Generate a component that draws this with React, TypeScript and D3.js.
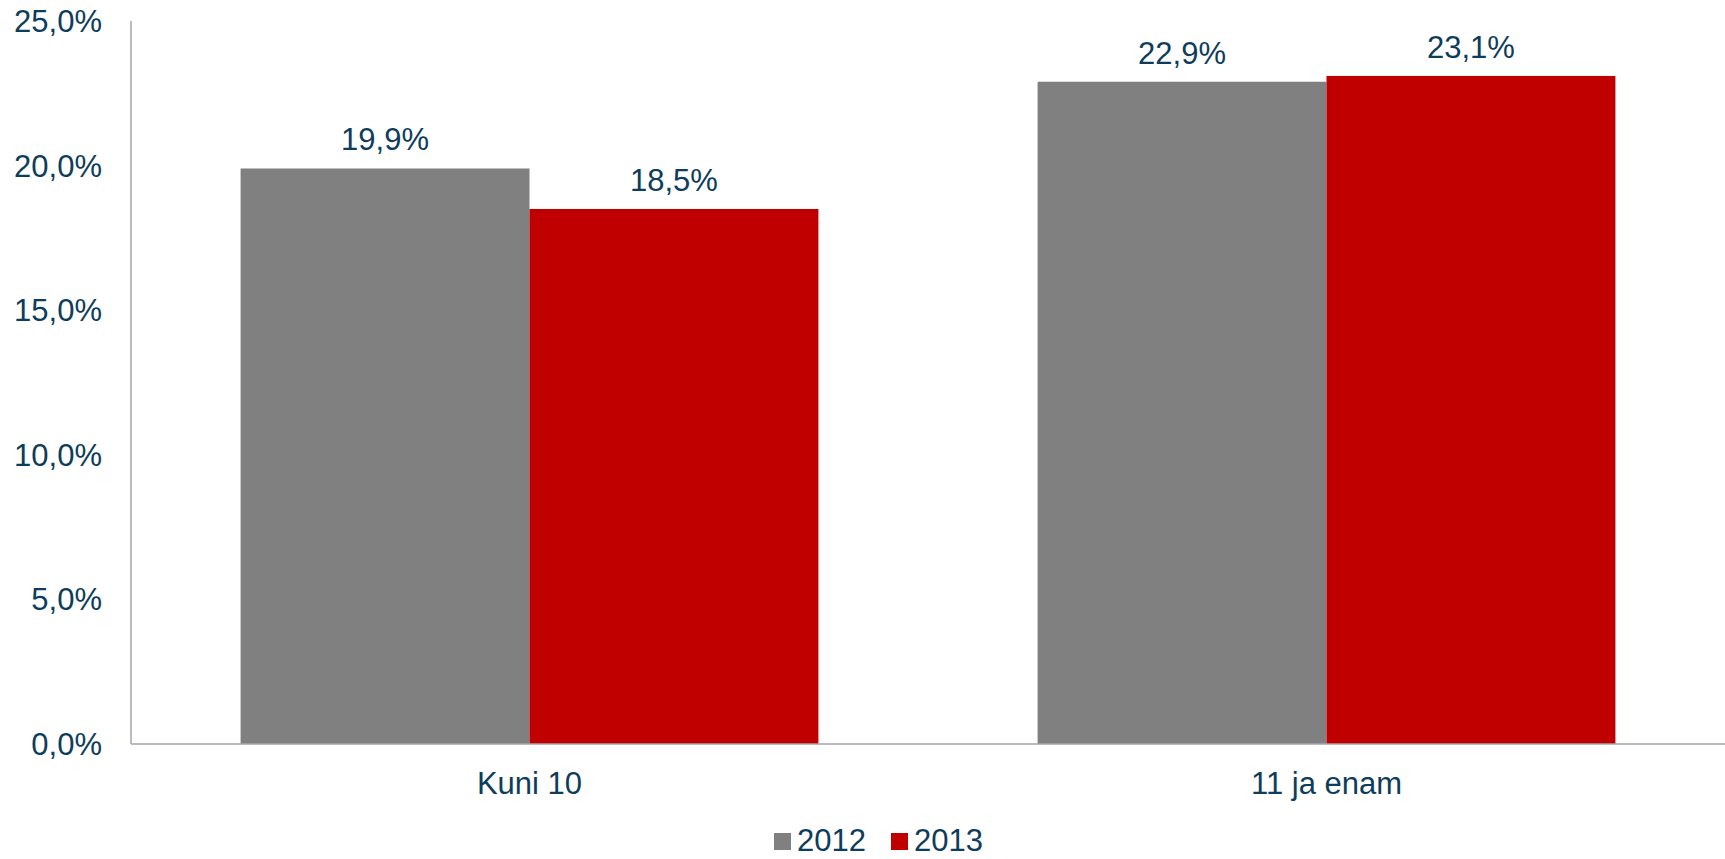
import React from "react";
import * as d3 from "d3";

const categories = ["Kuni 10", "11 ja enam"];
const seriesNames = ["2012", "2013"];
const values2012 = [19.9, 22.9];
const values2013 = [18.5, 23.1];
const yTicks = [0, 5, 10, 15, 20, 25];
const colors = ["#808080", "#C00000"];

const W = 1725;
const H = 859;
const margin = { left: 131, right: 0, top: 21, bottom: 115 };
const textColor = "#0E3D5B";
const font = "'Liberation Sans Narrow', 'Arial Narrow', sans-serif";
const fs = 31;

const fmt = (v: number) => v.toFixed(1).replace(".", ",") + "%";

export default function App() {
  const x0 = d3
    .scaleBand<string>()
    .domain(categories)
    .range([margin.left, W - margin.right])
    .paddingInner(0.275)
    .paddingOuter(0.1375);
  const x1 = d3.scaleBand<string>().domain(seriesNames).range([0, x0.bandwidth()]);
  const y = d3.scaleLinear().domain([0, 25]).range([H - margin.bottom, margin.top]);
  const series = [values2012, values2013];
  const baseY = y(0);

  return (
    <svg
      width={W}
      height={H}
      style={{ position: "absolute", left: 0, top: 0, background: "#fff" }}
      fontFamily={font}
    >
      {categories.map((c, ci) =>
        seriesNames.map((s, si) => {
          const v = series[si][ci];
          const bx = (x0(c) as number) + (x1(s) as number);
          return (
            <g key={c + s}>
              <rect x={bx} y={y(v)} width={x1.bandwidth()} height={baseY - y(v)} fill={colors[si]} />
              <text
                x={bx + x1.bandwidth() / 2}
                y={y(v) - 18}
                textAnchor="middle"
                fontSize={fs}
                fill={textColor}
              >
                {fmt(v)}
              </text>
            </g>
          );
        })
      )}
      <line x1={margin.left} x2={margin.left} y1={margin.top} y2={baseY} stroke="#A3A6AA" strokeWidth={1.5} />
      <line x1={margin.left} x2={W} y1={baseY} y2={baseY} stroke="#A3A6AA" strokeWidth={1.5} />
      {yTicks.map((t) => (
        <text key={t} x={102} y={y(t) + 11} textAnchor="end" fontSize={fs} fill={textColor}>
          {fmt(t)}
        </text>
      ))}
      {categories.map((c) => (
        <text
          key={c}
          x={(x0(c) as number) + x0.bandwidth() / 2}
          y={baseY + 50}
          textAnchor="middle"
          fontSize={fs}
          fill={textColor}
        >
          {c}
        </text>
      ))}
      {seriesNames.map((s, i) => {
        const lx = 774 + i * 117;
        return (
          <g key={s}>
            <rect x={lx} y={833} width={17} height={17} fill={colors[i]} />
            <text x={lx + 23} y={851} fontSize={fs} fill={textColor}>
              {s}
            </text>
          </g>
        );
      })}
    </svg>
  );
}
